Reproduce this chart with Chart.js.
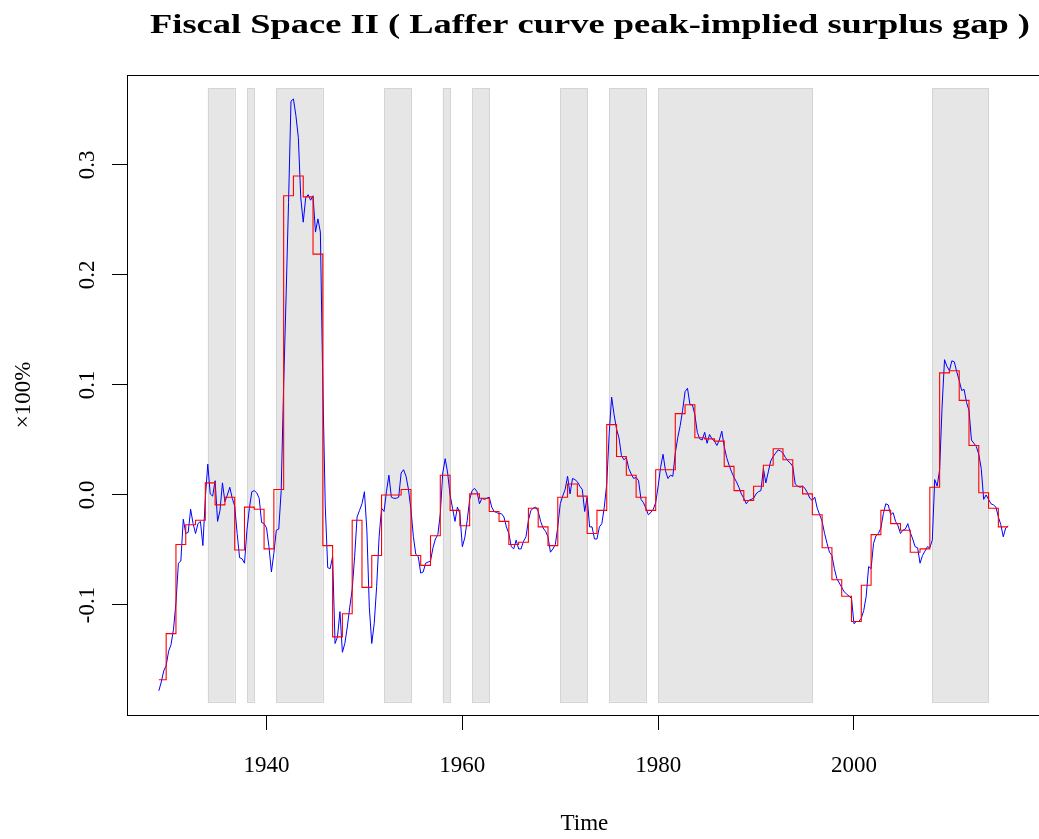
<!DOCTYPE html>
<html>
<head>
<meta charset="utf-8">
<script src="https://cdn.jsdelivr.net/npm/chart.js@4.4.1/dist/chart.umd.min.js"></script>
<style>
  html, body { margin: 0; padding: 0; background: #fff; }
  #wrap { width: 1039px; height: 839px; }
</style>
</head>
<body>
<div id="wrap"><canvas id="fsChart" width="1039" height="839"></canvas></div>
<script>
// quarterly series starts 1929 Q1
const firstQuarter = 1929;

// blue: quarterly surplus gap (x100%)
const quarterlyGap = [
  -0.178, -0.170, -0.160, -0.155, -0.142, -0.136, -0.122, -0.098, -0.062, -0.060, -0.022, -0.035,
  -0.034, -0.013, -0.026, -0.035, -0.026, -0.024, -0.046, -0.003, 0.028, 0.001, -0.001, 0.013,
  -0.024, -0.014, 0.011, -0.006, 0.000, 0.007, -0.003, -0.010, -0.035, -0.057, -0.058, -0.062,
  -0.032, -0.012, 0.003, 0.004, 0.002, -0.003, -0.025, -0.026, -0.030, -0.047, -0.070, -0.053,
  -0.032, -0.031, 0.004, 0.100, 0.181, 0.266, 0.358, 0.360, 0.345, 0.325, 0.270, 0.248,
  0.270, 0.273, 0.268, 0.272, 0.239, 0.251, 0.239, 0.100, -0.010, -0.066, -0.067, -0.056,
  -0.135, -0.129, -0.106, -0.143, -0.135, -0.120, -0.102, -0.086, -0.056, -0.020, -0.014, -0.008,
  0.003, -0.032, -0.102, -0.135, -0.117, -0.083, -0.038, -0.012, -0.015, 0.003, 0.018, -0.002,
  -0.003, -0.003, -0.002, 0.020, 0.023, 0.017, 0.005, -0.013, -0.038, -0.054, -0.056, -0.071,
  -0.070, -0.062, -0.061, -0.060, -0.048, -0.040, -0.036, -0.017, 0.020, 0.033, 0.020, 0.000,
  -0.012, -0.024, -0.011, -0.017, -0.047, -0.039, -0.023, -0.004, 0.004, 0.006, 0.003, -0.008,
  -0.003, -0.004, -0.003, -0.002, -0.011, -0.015, -0.016, -0.017, -0.017, -0.020, -0.029, -0.035,
  -0.047, -0.049, -0.041, -0.049, -0.049, -0.042, -0.038, -0.023, -0.014, -0.012, -0.011, -0.015,
  -0.024, -0.030, -0.033, -0.038, -0.052, -0.049, -0.045, -0.029, -0.008, -0.001, 0.005, 0.017,
  0.001, 0.015, 0.014, 0.012, 0.008, 0.005, -0.015, -0.002, -0.029, -0.029, -0.040, -0.040,
  -0.029, -0.026, -0.011, 0.010, 0.056, 0.089, 0.073, 0.060, 0.052, 0.036, 0.032, 0.034,
  0.024, 0.019, 0.015, 0.016, 0.013, -0.004, -0.007, -0.012, -0.018, -0.016, -0.013, -0.007,
  0.008, 0.025, 0.037, 0.022, 0.015, 0.018, 0.017, 0.038, 0.052, 0.063, 0.077, 0.094,
  0.097, 0.082, 0.082, 0.073, 0.057, 0.051, 0.050, 0.057, 0.047, 0.055, 0.051, 0.049,
  0.045, 0.050, 0.058, 0.044, 0.034, 0.027, 0.021, 0.016, 0.012, 0.007, 0.001, -0.003,
  -0.008, -0.005, -0.004, -0.003, 0.001, 0.003, 0.004, 0.024, 0.011, 0.021, 0.031, 0.035,
  0.038, 0.041, 0.040, 0.038, 0.034, 0.031, 0.029, 0.026, 0.010, 0.008, 0.007, 0.008,
  0.006, 0.002, -0.003, -0.005, -0.002, -0.012, -0.018, -0.024, -0.035, -0.044, -0.052, -0.055,
  -0.067, -0.076, -0.080, -0.084, -0.088, -0.090, -0.092, -0.094, -0.117, -0.115, -0.115, -0.112,
  -0.105, -0.092, -0.065, -0.067, -0.044, -0.037, -0.035, -0.030, -0.017, -0.008, -0.009, -0.018,
  -0.016, -0.024, -0.028, -0.035, -0.032, -0.031, -0.026, -0.034, -0.040, -0.047, -0.048, -0.062,
  -0.055, -0.051, -0.047, -0.048, -0.041, 0.014, 0.008, 0.023, 0.080, 0.123, 0.117, 0.113,
  0.122, 0.121, 0.112, 0.104, 0.095, 0.096, 0.084, 0.077, 0.050, 0.047, 0.044, 0.037,
  0.024, -0.004, 0.000, -0.004, -0.008, -0.009, -0.011, -0.020, -0.027, -0.038, -0.030, -0.028
];

// red: annual step values (each year runs Q4 to Q3)
const annualGap = [
  -0.168, -0.126, -0.045, -0.027, -0.023, 0.011, -0.009, -0.002, -0.050, -0.011,
  -0.013, -0.049, 0.005, 0.272, 0.290, 0.271, 0.219, -0.046, -0.129, -0.108,
  -0.023, -0.084, -0.055, 0.000, 0.000, 0.005, -0.055, -0.064, -0.037, 0.018,
  -0.014, -0.028, 0.001, -0.003, -0.015, -0.024, -0.045, -0.043, -0.012, -0.029,
  -0.046, -0.002, 0.010, -0.001, -0.035, -0.014, 0.064, 0.035, 0.018, -0.002,
  -0.014, 0.023, 0.023, 0.074, 0.082, 0.052, 0.051, 0.049, 0.026, 0.004,
  -0.005, 0.008, 0.027, 0.042, 0.032, 0.008, 0.001, -0.018, -0.048, -0.077,
  -0.092, -0.115, -0.082, -0.036, -0.014, -0.026, -0.032, -0.052, -0.049, 0.007,
  0.111, 0.113, 0.086, 0.045, 0.002, -0.012, -0.029
];

// grey shaded periods
const shadeFrom = [1934, 1938, 1941, 1952, 1958, 1961, 1970, 1975, 1980, 2008];
const shadeTo   = [1936.75, 1938.75, 1945.75, 1954.75, 1958.75, 1962.75, 1972.75, 1978.75, 1995.75, 2013.75];
const shadeLow = -0.188;
const shadeHigh = 0.370;

const xTicks = [1940, 1960, 1980, 2000];
const yTicks = [-0.1, 0.0, 0.1, 0.2, 0.3];
const yTickText = ['-0.1', '0.0', '0.1', '0.2', '0.3'];

// build points
const bluePts = quarterlyGap.map((v, i) => ({ x: firstQuarter + i / 4, y: v }));
const redPts = annualGap.map((v, i) => ({ x: i === 0 ? firstQuarter : firstQuarter - 0.25 + i, y: v }));
redPts.push({ x: firstQuarter - 0.25 + annualGap.length, y: annualGap[annualGap.length - 1] });

const serif = '"Liberation Serif", "DejaVu Serif", serif';

const decor = {
  id: 'decor',
  beforeDatasetsDraw(chart) {
    const { ctx, chartArea } = chart;
    const xs = chart.scales.x, ys = chart.scales.y;
    ctx.save();
    ctx.beginPath();
    ctx.rect(chartArea.left, chartArea.top, chartArea.right - chartArea.left, chartArea.bottom - chartArea.top);
    ctx.clip();
    const yT = ys.getPixelForValue(shadeHigh), yB = ys.getPixelForValue(shadeLow);
    shadeFrom.forEach((a, i) => {
      const x0 = xs.getPixelForValue(a), x1 = xs.getPixelForValue(shadeTo[i]);
      ctx.fillStyle = '#e6e6e6';
      ctx.fillRect(x0, yT, x1 - x0, yB - yT);
      ctx.strokeStyle = '#d4d4d4';
      ctx.lineWidth = 1;
      ctx.strokeRect(Math.round(x0) + 0.5, Math.round(yT) + 0.5, Math.round(x1 - x0), Math.round(yB - yT));
    });
    ctx.restore();
  },
  afterDraw(chart) {
    const { ctx, chartArea } = chart;
    const ys = chart.scales.y;
    ctx.save();
    // box
    ctx.strokeStyle = '#000';
    ctx.lineWidth = 1;
    ctx.strokeRect(chartArea.left + 0.5, chartArea.top + 0.5, chartArea.right - chartArea.left + 20, chartArea.bottom - chartArea.top);

    ctx.fillStyle = '#000';
    // y tick labels, rotated
    ctx.font = '23px ' + serif;
    ctx.textAlign = 'center';
    ctx.textBaseline = 'alphabetic';
    yTicks.forEach((v, i) => {
      const py = ys.getPixelForValue(v);
      ctx.save();
      ctx.translate(94, py);
      ctx.rotate(-Math.PI / 2);
      ctx.fillText(yTickText[i], 0, 0);
      ctx.restore();
    });
    // y title
    ctx.save();
    ctx.translate(30, (chartArea.top + chartArea.bottom) / 2);
    ctx.rotate(-Math.PI / 2);
    ctx.fillText('\u00d7100%', 0, 0);
    ctx.restore();
    // x title
    const midX = (chartArea.left + chart.scales.x.getPixelForValue(2019.2)) / 2;
    ctx.fillText('Time', midX, 830);
    // main title
    ctx.font = 'bold 27px ' + serif;
    const title = 'Fiscal Space II ( Laffer curve peak-implied surplus gap )';
    const w = ctx.measureText(title).width;
    ctx.translate(590, 33);
    ctx.scale(880 / w, 1);
    ctx.fillText(title, 0, 0);
    ctx.restore();
  }
};

new Chart(document.getElementById('fsChart'), {
  type: 'line',
  data: {
    datasets: [
      {
        label: 'annual',
        data: redPts,
        borderColor: '#ff0000',
        borderWidth: 1.1,
        pointRadius: 0,
        stepped: 'before',
        fill: false,
        order: 0
      },
      {
        label: 'quarterly',
        data: bluePts,
        borderColor: '#0000ff',
        borderWidth: 1,
        pointRadius: 0,
        tension: 0,
        fill: false,
        order: 1
      }
    ]
  },
  options: {
    responsive: false,
    devicePixelRatio: 1,
    animation: false,
    events: [],
    layout: { padding: { top: 75, left: 0, right: 0, bottom: 0 } },
    plugins: { legend: { display: false }, tooltip: { enabled: false }, title: { display: false } },
    scales: {
      x: {
        type: 'linear',
        min: 1925.75,
        max: 2018.9,
        afterBuildTicks: s => { s.ticks = xTicks.map(v => ({ value: v })); },
        afterFit: s => { s.height = 124; },
        grid: { drawOnChartArea: false, drawTicks: true, tickLength: 15, color: '#000', lineWidth: 1 },
        border: { display: true, color: '#000', width: 1 },
        ticks: {
          autoSkip: false,
          maxRotation: 0,
          padding: 22,
          color: '#000',
          font: { family: serif, size: 23 },
          callback: v => String(v)
        }
      },
      y: {
        type: 'linear',
        min: -0.2,
        max: 0.3818,
        afterBuildTicks: s => { s.ticks = yTicks.map(v => ({ value: v })); },
        afterFit: s => { s.width = 127; },
        grid: { drawOnChartArea: false, drawTicks: true, tickLength: 15, color: '#000', lineWidth: 1 },
        border: { display: true, color: '#000', width: 1 },
        ticks: { display: false }
      }
    }
  },
  plugins: [decor]
});
</script>
</body>
</html>
